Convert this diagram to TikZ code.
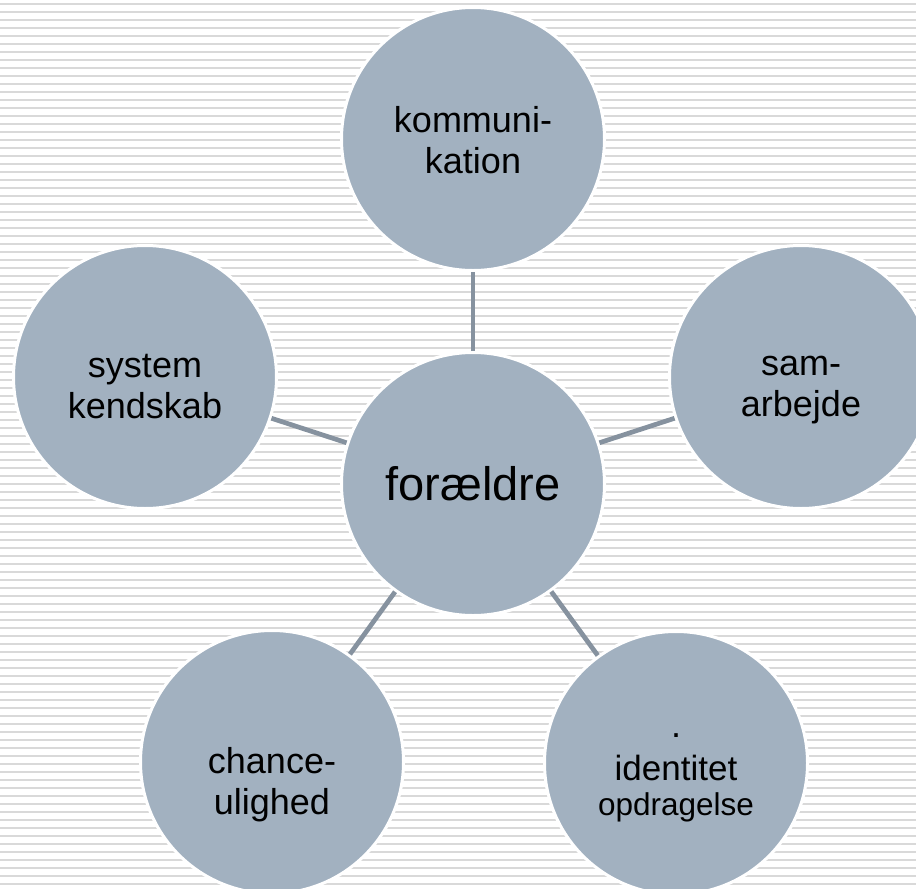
\documentclass[tikz,border=0pt]{standalone}
\usepackage{fontspec}
\setmainfont{Liberation Sans}
\definecolor{bubble}{RGB}{162,177,192}
\definecolor{spoke}{RGB}{134,146,159}
\definecolor{stripe}{RGB}{217,217,217}
\begin{document}
\begin{tikzpicture}[x=1pt,y=-1pt,
  bubble/.style={circle,fill=bubble,draw=white,line width=3pt,minimum size=263pt,inner sep=0pt},
  txt/.style={align=center,inner sep=0pt,font=\fontsize{36}{41}\selectfont},
  spoke/.style={draw=spoke,line width=4.7pt}]
\clip (0,0) rectangle (916,889);
% striped background
\fill[white] (0,0) rectangle (916,889);
\foreach \k in {0,...,111}
  \draw[stripe,line width=1.8pt] (0,4+8*\k) -- (916,4+8*\k);
\node[bubble,label={[txt,font=\fontsize{47}{54}\selectfont]center:forældre}] (fam) at (473,484) {};
\node[bubble,label={[txt,yshift=-1pt]center:kommuni-\\kation}] (kom) at (473,139) {};
\node[bubble,label={[txt,yshift=-13pt]center:sam-\\arbejde}] (sam) at (801,377) {};
\node[bubble,label={[txt,yshift=-10pt]center:system\\kendskab}] (sys) at (145,377) {};
\node[bubble,label={[txt,yshift=-23pt]center:chance-\\ulighed}] (chance) at (272,762) {};
\node[bubble,label={[txt,yshift=-15pt]center:.\\[2pt]{\fontsize{35}{41}\selectfont identitet}\\[-6pt]{\fontsize{31.5}{38}\selectfont opdragelse}}] (ident) at (676,763) {};
\draw[spoke] (fam) -- (kom);
\draw[spoke] (fam) -- (sam);
\draw[spoke] (fam) -- (sys);
\draw[spoke] (fam) -- (chance);
\draw[spoke] (fam) -- (ident);
\end{tikzpicture}
\end{document}
